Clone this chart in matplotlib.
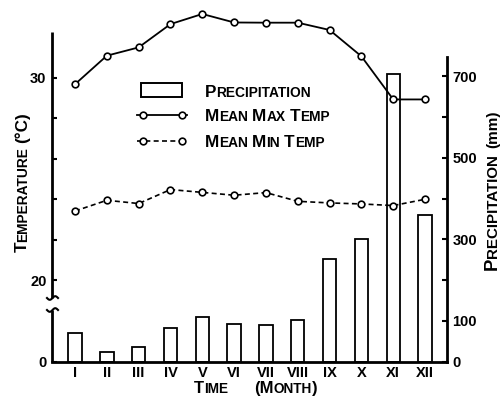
import matplotlib
matplotlib.use('Agg')
import matplotlib.pyplot as plt
from matplotlib.lines import Line2D
from matplotlib.patches import Rectangle
import numpy as np

plt.rcParams['font.family'] = ['Liberation Sans', 'DejaVu Sans']
plt.rcParams['font.weight'] = 'bold'

# ---------------- data ----------------
months = list(range(1, 13))
month_labels = ['I', 'II', 'III', 'IV', 'V', 'VI', 'VII', 'VIII', 'IX', 'X', 'XI', 'XII']
precip = [70, 23, 35, 82, 109, 93, 89, 101, 251, 300, 707, 360]
max_temp = [29.67, 31.08, 31.49, 32.64, 33.14, 32.72, 32.71, 32.71, 32.35, 31.05, 28.92, 28.92]
min_temp = [23.41, 23.94, 23.78, 24.47, 24.33, 24.19, 24.32, 23.89, 23.81, 23.76, 23.68, 23.99]
precip_ticks = [0, 100, 200, 300, 400, 500, 600, 700]
precip_ticklabels = ['0', '100', '', '300', '', '500', '', '700']
temp_ticks = [15.98, 20, 22, 24, 26, 28, 30]
temp_ticklabels = ['0', '20', '', '', '', '', '30']

W, H = 500, 401
fig = plt.figure(figsize=(W / 100, H / 100), dpi=100)


def fx(px):
    return px / W


def fy(py):
    return 1 - py / H


ax_p = fig.add_axes([fx(52), fy(361.5), fx(447) - fx(52), fy(32) - fy(361.5)])
ax_t = ax_p.twinx()

ax_p.set_xlim(0.277, 12.69)
ax_p.set_ylim(0, 809)
ax_t.set_ylim(15.98, 32.25)

# bars
ax_p.bar(months, precip, width=0.42, facecolor='white', edgecolor='black', linewidth=1.3, zorder=2)

# lines
ax_t.plot(months, max_temp, '-o', color='black', lw=1.3, ms=4.8, mfc='white', mec='black',
          mew=1.2, clip_on=False, zorder=5)
ax_t.plot(months, min_temp, linestyle=(0, (3, 2)), marker='o', color='black', lw=1.2, ms=4.8,
          mfc='white', mec='black', mew=1.2, clip_on=False, zorder=5)

# spines
for s in ['top', 'left']:
    ax_p.spines[s].set_visible(False)
ax_p.spines['right'].set_bounds(0, 747)
ax_p.spines['right'].set_linewidth(2)
ax_p.spines['bottom'].set_linewidth(2)
for s in ['top', 'left', 'right', 'bottom']:
    ax_t.spines[s].set_visible(False)

# right (precip) axis ticks
ax_p.yaxis.tick_right()
ax_p.set_yticks(precip_ticks)
ax_p.set_yticklabels(precip_ticklabels)
ax_p.tick_params(axis='y', direction='in', length=3.5, width=1.5, pad=4, labelsize=10.5)

# x axis
ax_p.set_xticks(months)
ax_p.set_xticklabels(month_labels)
ax_p.tick_params(axis='x', length=0, pad=3.5, labelsize=10.5)

# left (temp) axis
ax_t.yaxis.tick_left()
ax_t.set_yticks(temp_ticks)
ax_t.set_yticklabels(temp_ticklabels)
ax_t.tick_params(axis='y', direction='in', length=3.5, width=1.5, pad=4, labelsize=10.5)

# broken left spine
ytr = ax_t.get_yaxis_transform()
ax_t.plot([0, 0], [15.98, 18.52], transform=ytr, color='black', lw=2, clip_on=False,
          solid_capstyle='butt')
ax_t.plot([0, 0], [19.12, 32.25], transform=ytr, color='black', lw=2, clip_on=False,
          solid_capstyle='butt')
for yb in [298, 310]:
    xs = np.linspace(47, 58, 30)
    ys = yb + 1.8 * np.sin((xs - 47) / 11 * 2 * np.pi)
    fig.add_artist(Line2D([fx(v) for v in xs], [fy(v) for v in ys], color='black', lw=1.5))

# ---------------- small caps helper ----------------
renderer = fig.canvas.get_renderer()


def text_width(s, size):
    t = fig.text(0, 0, s, fontsize=size, fontweight='bold')
    w = t.get_window_extent(renderer).width
    t.remove()
    return w


def sc_pieces(s, big, small, space=None):
    pieces = []
    for i, word in enumerate(s.split(' ')):
        if i > 0:
            pieces.append(('gap', space if space is not None else small * 0.3 * 100 / 72))
        if not word:
            continue
        cur, kind = '', None
        for ch in word:
            k = 's' if ch.islower() else 'b'
            if cur and k != kind:
                pieces.append((cur, big if kind == 'b' else small))
                cur = ''
            cur += ch.upper()
            kind = k
        if cur:
            pieces.append((cur, big if kind == 'b' else small))
    return pieces


def draw_pieces(pieces, x, y, rot=0, align='left'):
    widths = []
    for s, sz in pieces:
        widths.append(sz if s == 'gap' else text_width(s, sz))
    total = sum(widths)
    start = -total / 2 if align == 'center' else 0
    adv = start
    for (s, sz), w in zip(pieces, widths):
        if s != 'gap':
            if rot == 0:
                fig.text(fx(x + adv), fy(y), s, fontsize=sz, fontweight='bold',
                         ha='left', va='baseline')
            else:
                fig.text(fx(x), fy(y - adv), s, fontsize=sz, fontweight='bold',
                         ha='left', va='baseline', rotation=90, rotation_mode='anchor')
        adv += w


# axis titles
draw_pieces(sc_pieces('Time', 12, 9.8) + [('gap', 26)] + sc_pieces('(Month)', 12, 9.8),
            256, 393, align='center')
draw_pieces(sc_pieces('Temperature', 12.3, 9.9) + [('gap', 4)] + [('(°C)', 12.3)],
            27, 182, rot=90, align='center')
draw_pieces(sc_pieces('Precipitation', 13.3, 10.9) + [('gap', 6)] + [('(mm)', 11)],
            497, 190, rot=90, align='center')

# ---------------- legend ----------------
fig.add_artist(Rectangle((fx(141), fy(97)), fx(182) - fx(141), fy(83) - fy(97),
                         facecolor='white', edgecolor='black', lw=1.4, transform=fig.transFigure))
fig.add_artist(Line2D([fx(137), fx(187)], [fy(115), fy(115)], color='black', lw=1.3))
fig.add_artist(Line2D([fx(143), fx(182)], [fy(115), fy(115)], lw=0, marker='o', ms=4.8,
                      mfc='white', mec='black', mew=1.2))
fig.add_artist(Line2D([fx(137), fx(187)], [fy(141), fy(141)], color='black', lw=1.2,
                      linestyle=(0, (3, 2))))
fig.add_artist(Line2D([fx(143), fx(182)], [fy(141), fy(141)], lw=0, marker='o', ms=4.8,
                      mfc='white', mec='black', mew=1.2))
draw_pieces(sc_pieces('Precipitation', 12.3, 9.9), 205, 97)
draw_pieces(sc_pieces('Mean Max Temp', 12.3, 9.9), 205, 121)
draw_pieces(sc_pieces('Mean Min Temp', 12.3, 9.9), 205, 147)

fig.savefig('out.png', dpi=100)
